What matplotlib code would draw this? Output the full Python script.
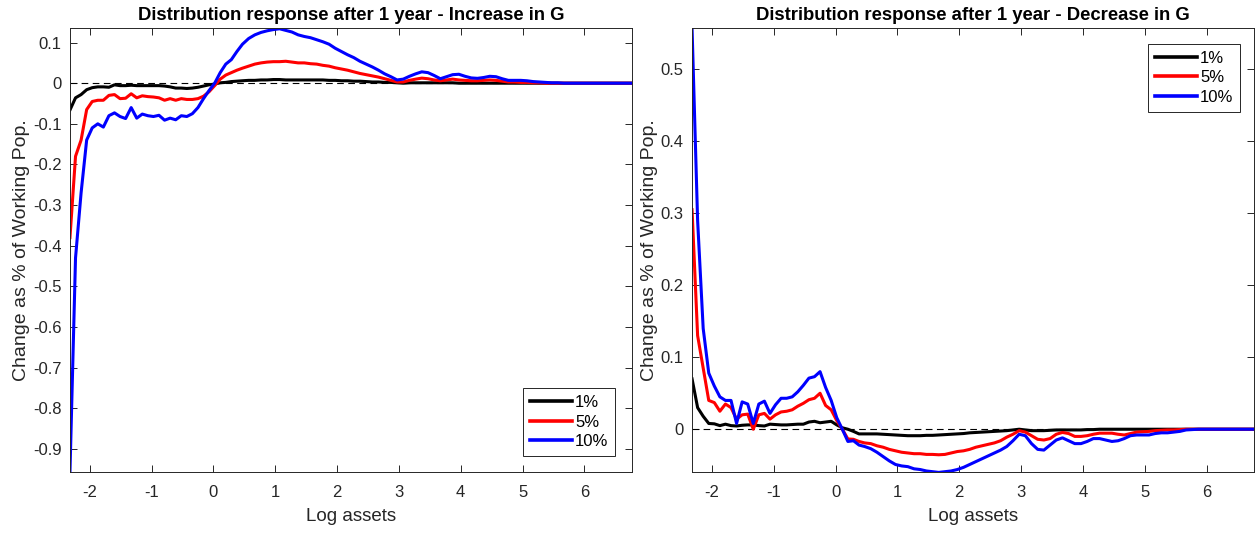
import numpy as np
import matplotlib
matplotlib.use("Agg")
import matplotlib.pyplot as plt
from matplotlib.ticker import FuncFormatter

plt.rcParams['font.family'] = ['Liberation Sans', 'DejaVu Sans']
plt.rcParams['axes.unicode_minus'] = False

# log-asset grid (finer on the left where the response is noisy)
log_assets = [
    -2.32, -2.23, -2.14, -2.05, -1.96, -1.87, -1.78, -1.69, -1.60, -1.51,
    -1.42, -1.33, -1.24, -1.15, -1.06, -0.97, -0.88, -0.79, -0.70, -0.61,
    -0.52, -0.43, -0.34, -0.25, -0.16, -0.07, 0.02, 0.11, 0.20, 0.29,
    0.38, 0.47,
    0.57, 0.67, 0.77, 0.87, 0.97, 1.07, 1.17, 1.27, 1.37, 1.47,
    1.57, 1.67, 1.77, 1.87, 1.97, 2.07, 2.17, 2.27, 2.37, 2.47,
    2.57, 2.67, 2.77, 2.87, 2.97, 3.07, 3.17, 3.27, 3.37, 3.47,
    3.57, 3.67, 3.77, 3.87, 3.97, 4.07, 4.17, 4.27, 4.37, 4.47,
    4.57, 4.67, 4.77, 4.87, 4.97, 5.07, 5.17, 5.27, 5.37, 5.47,
    5.57, 5.67, 5.77, 5.87, 5.97, 6.07, 6.17, 6.27, 6.37, 6.47,
    6.57, 6.67, 6.77,
]

shock_labels = ['1%', '5%', '10%']
line_colors = ['black', 'red', 'blue']

# increase in G
inc_1 = [
    -0.066, -0.036, -0.028, -0.016, -0.011, -0.009, -0.009, -0.010, -0.004, -0.006,
    -0.006, -0.005, -0.006, -0.006, -0.006, -0.006, -0.006, -0.007, -0.009, -0.012,
    -0.012, -0.013, -0.012, -0.010, -0.007, -0.004, -0.002, 0.001, 0.002, 0.004,
    0.005, 0.006,
    0.007, 0.007, 0.008, 0.008, 0.009, 0.009, 0.008, 0.008, 0.008, 0.008,
    0.008, 0.008, 0.008, 0.007, 0.007, 0.006, 0.006, 0.005, 0.005, 0.004,
    0.003, 0.003, 0.002, 0.002, 0.001, 0.000, 0.001, 0.001, 0.001, 0.001,
    0.001, 0.001, 0.001, 0.001, 0.000, 0.0, 0.0, 0.0, 0.0, 0.0,
    0.0, 0.0, 0.0, 0.0, 0.0, 0.0, 0.0, 0.0, 0.0, 0.0,
    0.0, 0.0, 0.0, 0.0, 0.0, 0.0, 0.0, 0.0, 0.0, 0.0,
    0.0, 0.0, 0.0,
]
inc_5 = [
    -0.380, -0.180, -0.140, -0.065, -0.045, -0.042, -0.042, -0.030, -0.028, -0.038,
    -0.037, -0.026, -0.036, -0.031, -0.033, -0.034, -0.036, -0.042, -0.038, -0.042,
    -0.038, -0.040, -0.040, -0.038, -0.032, -0.021, -0.006, 0.010, 0.020, 0.026,
    0.032, 0.037,
    0.042, 0.047, 0.050, 0.052, 0.053, 0.053, 0.054, 0.052, 0.050, 0.050,
    0.048, 0.047, 0.044, 0.042, 0.038, 0.035, 0.032, 0.028, 0.024, 0.021,
    0.018, 0.015, 0.011, 0.007, 0.003, 0.003, 0.007, 0.010, 0.0125, 0.011,
    0.008, 0.006, 0.008, 0.010, 0.008, 0.007, 0.006, 0.006, 0.007, 0.008,
    0.007, 0.005, 0.003, 0.003, 0.002, 0.002, 0.001, 0.001, 0.0, 0.0,
    0.0, 0.0, 0.0, 0.0, 0.0, 0.0, 0.0, 0.0, 0.0, 0.0,
    0.0, 0.0, 0.0,
]
inc_10 = [
    -0.958, -0.430, -0.270, -0.140, -0.110, -0.100, -0.108, -0.080, -0.073, -0.082,
    -0.087, -0.060, -0.086, -0.076, -0.080, -0.082, -0.079, -0.091, -0.086, -0.090,
    -0.080, -0.082, -0.075, -0.060, -0.038, -0.018, 0.000, 0.026, 0.047, 0.058,
    0.078, 0.096,
    0.110, 0.119, 0.125, 0.129, 0.132, 0.134, 0.130, 0.126, 0.119, 0.115,
    0.112, 0.107, 0.102, 0.096, 0.086, 0.078, 0.070, 0.063, 0.054, 0.047,
    0.040, 0.032, 0.023, 0.016, 0.008, 0.010, 0.017, 0.023, 0.028, 0.026,
    0.019, 0.011, 0.016, 0.021, 0.022, 0.017, 0.013, 0.012, 0.014, 0.017,
    0.016, 0.011, 0.007, 0.007, 0.007, 0.006, 0.004, 0.003, 0.002, 0.001,
    0.001, 0.0, 0.0, 0.0, 0.0, 0.0, 0.0, 0.0, 0.0, 0.0,
    0.0, 0.0, 0.0,
]

# decrease in G
dec_1 = [
    0.070, 0.030, 0.018, 0.008, 0.0075, 0.005, 0.007, 0.005, 0.0045, 0.0055,
    0.006, 0.006, 0.005, 0.0045, 0.007, 0.0065, 0.006, 0.006, 0.0065, 0.007,
    0.007, 0.010, 0.011, 0.009, 0.010, 0.011, 0.006, 0.002, 0.000, -0.003,
    -0.0065, -0.0065,
    -0.0065, -0.0065, -0.007, -0.0075, -0.008, -0.0085, -0.009, -0.009, -0.009, -0.0085,
    -0.0085, -0.008, -0.0075, -0.007, -0.0065, -0.006, -0.005, -0.0045, -0.004, -0.0035,
    -0.003, -0.0025, -0.002, -0.001, 0.0, -0.001, -0.002, -0.002, -0.002, -0.0015,
    -0.001, -0.001, -0.001, -0.001, -0.001, -0.0005, -0.0005, 0.0, 0.0, 0.0,
    0.0, 0.0, 0.0, 0.0, 0.0, 0.0, 0.0, 0.0, 0.0, 0.0,
    0.0, 0.0, 0.0, 0.0, 0.0, 0.0, 0.0, 0.0, 0.0, 0.0,
    0.0, 0.0, 0.0,
]
dec_5 = [
    0.305, 0.130, 0.085, 0.040, 0.037, 0.025, 0.035, 0.030, 0.014, 0.020,
    0.021, 0.000, 0.020, 0.022, 0.014, 0.020, 0.024, 0.025, 0.027, 0.032,
    0.036, 0.041, 0.043, 0.050, 0.033, 0.027, 0.012, 0.000, -0.0135, -0.014,
    -0.017, -0.019,
    -0.020, -0.023, -0.025, -0.028, -0.030, -0.032, -0.033, -0.034, -0.034, -0.035,
    -0.035, -0.0355, -0.035, -0.033, -0.031, -0.030, -0.028, -0.025, -0.023, -0.021,
    -0.019, -0.016, -0.011, -0.007, -0.002, -0.004, -0.009, -0.014, -0.015, -0.013,
    -0.007, -0.0045, -0.006, -0.010, -0.010, -0.009, -0.007, -0.0055, -0.0055, -0.0055,
    -0.007, -0.008, -0.006, -0.004, -0.0035, -0.003, -0.002, -0.0015, -0.001, -0.001,
    -0.0005, 0.0, 0.0, 0.0, 0.0, 0.0, 0.0, 0.0, 0.0, 0.0,
    0.0, 0.0, 0.0,
]
dec_10 = [
    0.557, 0.290, 0.140, 0.078, 0.060, 0.045, 0.040, 0.040, 0.008, 0.038,
    0.035, 0.008, 0.035, 0.039, 0.022, 0.034, 0.043, 0.043, 0.045, 0.052,
    0.061, 0.071, 0.073, 0.080, 0.058, 0.040, 0.016, 0.000, -0.017, -0.016,
    -0.022, -0.024,
    -0.027, -0.032, -0.038, -0.044, -0.049, -0.051, -0.052, -0.055, -0.056, -0.058,
    -0.059, -0.060, -0.059, -0.058, -0.056, -0.053, -0.049, -0.045, -0.041, -0.037,
    -0.033, -0.029, -0.024, -0.016, -0.007, -0.009, -0.020, -0.028, -0.029, -0.022,
    -0.015, -0.012, -0.016, -0.020, -0.020, -0.017, -0.013, -0.013, -0.015, -0.017,
    -0.016, -0.013, -0.009, -0.008, -0.008, -0.008, -0.006, -0.005, -0.005, -0.004,
    -0.003, -0.001, -0.0005, 0.0, 0.0, 0.0, 0.0, 0.0, 0.0, 0.0,
    0.0, 0.0, 0.0,
]

titles = ['Distribution response after 1 year - Increase in G',
          'Distribution response after 1 year - Decrease in G']

x = np.array(log_assets)
fig = plt.figure(figsize=(12.56, 5.35), dpi=100)
ax1 = fig.add_axes([0.0557, 0.117, 0.4475, 0.83])
ax2 = fig.add_axes([0.551, 0.117, 0.4475, 0.83])

axis_col = '#262626'
fmt = FuncFormatter(lambda v, p: '0' if abs(v) < 1e-9 else ('%g' % round(v, 2)))

panels = [
    (ax1, [inc_1, inc_5, inc_10], (-0.958, 0.135), np.arange(-0.9, 0.15, 0.1),
     dict(loc='lower right', bbox_to_anchor=(0.97, 0.037))),
    (ax2, [dec_1, dec_5, dec_10], (-0.060, 0.557), np.arange(0.0, 0.55, 0.1),
     dict(loc='upper right', bbox_to_anchor=(0.975, 0.965))),
]

for (ax, series, ylim, yticks, legpos), title in zip(panels, titles):
    ax.plot([x[0], x[-1]], [0, 0], '--', color='black', lw=0.8, dashes=(6, 4))
    for vals, lab, col in zip(series, shock_labels, line_colors):
        ax.plot(x, vals, color=col, lw=2.2, label=lab)
    ax.set_xlim(x[0], x[-1])
    ax.set_ylim(*ylim)
    ax.set_xticks(range(-2, 7))
    ax.set_yticks(yticks)
    ax.yaxis.set_major_formatter(fmt)
    ax.tick_params(direction='in', top=True, right=True, length=5, width=0.7,
                   labelsize=12, colors=axis_col, labelcolor=axis_col)
    ax.tick_params(axis='x', pad=9)
    ax.tick_params(axis='y', pad=6)
    for s in ax.spines.values():
        s.set_color(axis_col)
        s.set_linewidth(0.7)
    ax.set_title(title, fontsize=13.3, fontweight='bold', pad=6)
    ax.set_xlabel('Log assets', fontsize=13.5, color=axis_col, labelpad=6)
    ax.set_ylabel('Change as % of Working Pop.', fontsize=14, color=axis_col, labelpad=2)
    leg = ax.legend(fontsize=12, fancybox=False, edgecolor=axis_col, framealpha=1,
                    handlelength=2.5, handletextpad=0.2, borderpad=0.4,
                    labelspacing=0.28, borderaxespad=0, **legpos)
    leg.get_frame().set_linewidth(0.7)
    for h in leg.get_lines():
        h.set_linewidth(2.6)

fig.savefig('out.png', dpi=100)
